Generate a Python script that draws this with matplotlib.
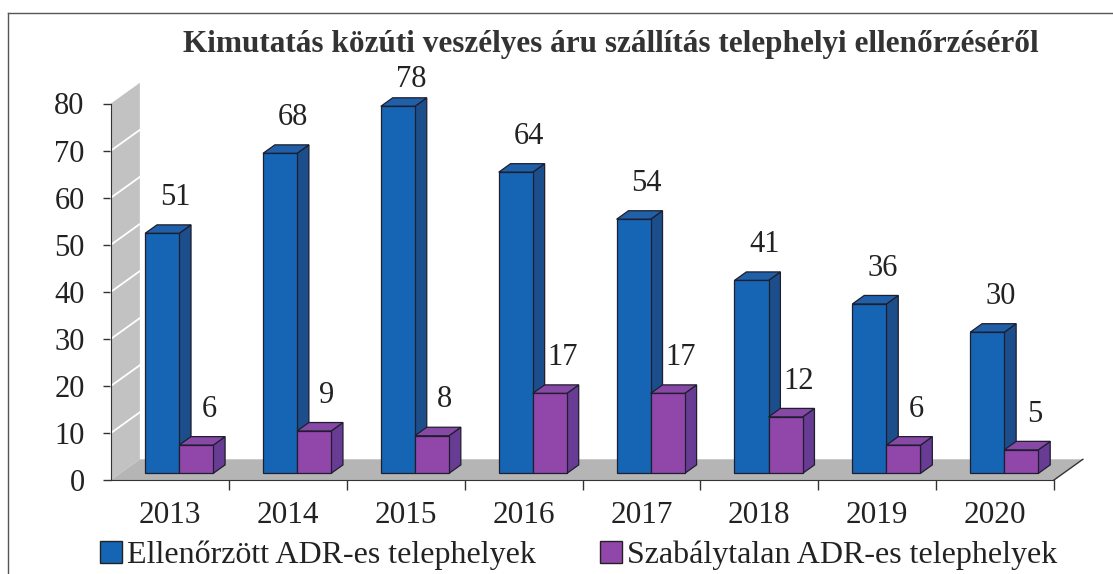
import matplotlib.pyplot as plt
from matplotlib.patches import Polygon, Patch
from matplotlib.lines import Line2D

evek = ["2013", "2014", "2015", "2016", "2017", "2018", "2019", "2020"]
ellenorzott = [51, 68, 78, 64, 54, 41, 36, 30]
szabalytalan = [6, 9, 8, 17, 17, 12, 6, 5]

CIM = "Kimutatás közúti veszélyes áru szállítás telephelyi ellenőrzéséről"
NEV_1 = "Ellenőrzött ADR-es telephelyek"
NEV_2 = "Szabálytalan ADR-es telephelyek"

# szinek: elol, teteje, oldala
KEK = ("#1565b4", "#1f60a8", "#1c4e8c")
LILA = ("#9146aa", "#8849a6", "#683c94")
FAL = "#c2c2c2"
PADLO = "#b5b5b5"
SZOVEG = "#222222"

# 3D hatas: teljes melyseg tengelyegysegben
MELY_X = 0.245
MELY_Y = 4.4
ELSO = 0.32   # oszlop eleje a melyseg aranyaban
HATSO = 0.73  # oszlop hatulja
SZEL = 0.289  # oszlop szelesseg

plt.rcParams["font.family"] = ["Liberation Serif", "DejaVu Serif"]

fig = plt.figure(figsize=(11.13, 5.74), dpi=100)
ax = fig.add_axes([111 / 1113, 94 / 574, 943 / 1113, 376.5 / 574])
ax.set_xlim(-0.5, len(evek) - 0.5)
ax.set_ylim(0, 80)
ax.patch.set_alpha(0)

x_bal, x_jobb = -0.5, len(evek) - 0.5

# oldalfal racsvonalakkal
ax.add_patch(Polygon([(x_bal, 0), (x_bal, 80), (x_bal + MELY_X, 80 + MELY_Y),
                      (x_bal + MELY_X, MELY_Y)], closed=True, facecolor=FAL,
                     edgecolor="none", clip_on=False, zorder=1))
for y in range(10, 80, 10):
    ax.add_line(Line2D([x_bal, x_bal + MELY_X], [y, y + MELY_Y], color="white",
                       lw=1.3, clip_on=False, zorder=2))

# padlo
ax.add_patch(Polygon([(x_bal, 0), (x_jobb, 0), (x_jobb + MELY_X, MELY_Y),
                      (x_bal + MELY_X, MELY_Y)], closed=True, facecolor=PADLO,
                     edgecolor="none", clip_on=False, zorder=1))
ax.add_line(Line2D([x_jobb, x_jobb + MELY_X], [0, MELY_Y], color="#333333",
                   lw=1.0, clip_on=False, zorder=2))


def oszlop(xk, ertek, szinek):
    ox = xk + ELSO * MELY_X
    oy = ELSO * MELY_Y
    sx = (HATSO - ELSO) * MELY_X
    sy = (HATSO - ELSO) * MELY_Y
    x1 = ox + SZEL
    kw = dict(closed=True, edgecolor="#1e1e2e", lw=0.9, clip_on=False, zorder=3)
    ax.add_patch(Polygon([(x1, oy), (x1 + sx, oy + sy), (x1 + sx, oy + ertek + sy),
                          (x1, oy + ertek)], facecolor=szinek[2], **kw))
    ax.add_patch(Polygon([(ox, oy + ertek), (x1, oy + ertek), (x1 + sx, oy + ertek + sy),
                          (ox + sx, oy + ertek + sy)], facecolor=szinek[1], **kw))
    ax.add_patch(Polygon([(ox, oy), (x1, oy), (x1, oy + ertek), (ox, oy + ertek)],
                         facecolor=szinek[0], **kw))
    ax.text(ox + SZEL / 2 + 0.11, min(oy + ertek + 7.6, 85.2), str(ertek),
            ha="center", va="center", fontsize=22, color=SZOVEG, zorder=5)


for i in range(len(evek)):
    oszlop(i - SZEL, ellenorzott[i], KEK)
    oszlop(i, szabalytalan[i], LILA)

# tengelyek
for s in ["top", "right"]:
    ax.spines[s].set_visible(False)
ax.spines["left"].set_color("#333333")
ax.spines["bottom"].set_color("#333333")
ax.spines["left"].set_zorder(4)
ax.spines["bottom"].set_zorder(4)
ax.set_yticks(range(0, 81, 10))
ax.tick_params(axis="y", length=6, width=1, color="#333333", pad=13,
               labelsize=22, labelcolor=SZOVEG)
ax.set_xticks(range(len(evek)))
ax.set_xticklabels(evek)
ax.set_xticks([i + 0.5 for i in range(len(evek))], minor=True)
ax.tick_params(axis="x", which="major", length=0, pad=15, labelsize=22.5,
               labelcolor=SZOVEG)
ax.tick_params(axis="x", which="minor", length=7, width=1, color="#333333")

fig.text(0.549, 0.922, CIM, ha="center", va="center", fontsize=22.5,
         fontweight="bold", color="#333333")

fig.legend(handles=[Patch(facecolor=KEK[0], edgecolor="#222222", label=NEV_1),
                    Patch(facecolor=LILA[0], edgecolor="#222222", label=NEV_2)],
           loc="center", bbox_to_anchor=(0.52, 0.032), ncol=2, frameon=False,
           fontsize=23, handlelength=0.7, handleheight=0.7, handletextpad=0.15,
           columnspacing=2.0, labelcolor=SZOVEG, borderpad=0)

# keret
fig.add_artist(Line2D([8 / 1113, 1], [1 - 13 / 574, 1 - 13 / 574],
                      transform=fig.transFigure, color="#555555", lw=1))
fig.add_artist(Line2D([8 / 1113, 8 / 1113], [0, 1 - 13 / 574],
                      transform=fig.transFigure, color="#555555", lw=1))

fig.savefig("out.png", dpi=100)
